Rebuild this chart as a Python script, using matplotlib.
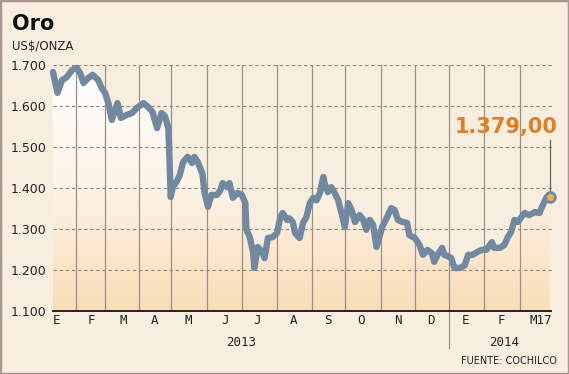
import matplotlib
matplotlib.use('Agg')
import matplotlib.pyplot as plt
import matplotlib.transforms as mtransforms
from matplotlib.patches import Rectangle
import numpy as np

# dias desde el inicio de la serie (aprox. 2 ene 2013 -> 17 mar 2014)
dias = [0, 4, 8, 12, 17, 21, 24, 27, 31, 35, 40, 43, 46, 49, 52, 57, 60, 65, 70, 74,
        80, 84, 88, 92, 96, 99, 102, 103, 104, 106, 110, 112, 115, 119, 123, 125, 128, 132,
        134, 137, 140, 145, 148, 150, 154, 156, 159, 163, 167, 170, 171, 174, 177, 178,
        181, 185, 187, 190, 194, 198, 201, 203, 207, 209, 212, 214, 218, 221, 224, 227,
        230, 233, 236, 239, 240, 243, 246, 249, 252, 255, 258, 261, 264, 267, 271, 274,
        277, 280, 283, 286, 291, 295, 299, 302, 305, 309, 313, 315, 320, 324, 327, 331,
        335, 337, 340, 344, 346, 349, 352, 355, 360, 364, 367, 371, 375, 379, 383, 388,
        390, 395, 399, 402, 405, 408, 411, 414, 417, 421, 426, 430, 433, 436, 439]
precio = [1683, 1632, 1663, 1670, 1688, 1693, 1680, 1656, 1668, 1676, 1663, 1644, 1632,
          1607, 1566, 1607, 1571, 1578, 1583, 1595, 1607, 1598, 1585, 1546, 1583, 1575,
          1546, 1468, 1378, 1402, 1419, 1431, 1463, 1476, 1461, 1476, 1463, 1436, 1388,
          1354, 1383, 1383, 1395, 1412, 1402, 1412, 1376, 1388, 1383, 1363, 1298, 1280,
          1241, 1205, 1256, 1244, 1229, 1278, 1280, 1290, 1329, 1339, 1322, 1326, 1317,
          1290, 1278, 1315, 1329, 1363, 1376, 1370, 1388, 1427, 1412, 1390, 1402, 1388,
          1371, 1339, 1305, 1363, 1346, 1317, 1334, 1324, 1298, 1322, 1310, 1256, 1305,
          1327, 1351, 1346, 1322, 1317, 1315, 1285, 1278, 1261, 1237, 1249, 1241, 1220,
          1237, 1254, 1237, 1234, 1229, 1205, 1205, 1212, 1237, 1237, 1244, 1249, 1249,
          1268, 1254, 1254, 1261, 1280, 1293, 1322, 1317, 1329, 1339, 1334, 1341, 1339,
          1358, 1376, 1379]

meses = ['E', 'F', 'M', 'A', 'M', 'J', 'J', 'A', 'S', 'O', 'N', 'D', 'E', 'F', 'M17']
pos_meses = [3.5, 33.6, 61.9, 89.3, 119.4, 152.1, 180.4, 212.2, 243.1, 272.3, 305,
             334.2, 364.3, 396.1, 431.5]
divisiones = [20.3, 46, 76, 104.3, 136.2, 167.1, 198.1, 229, 258.2, 290, 320, 350.1,
              381, 412.9]
y_ticks = [1100, 1200, 1300, 1400, 1500, 1600, 1700]

fondo = '#f7eedf'
linea = '#7189a0'
naranja = '#e47d22'

fig = plt.figure(figsize=(5.69, 3.74), dpi=100, facecolor=fondo)
ax = fig.add_axes([53 / 569, 63 / 374, 500 / 569, 246 / 374])
ax.set_facecolor(fondo)
ax.set_xlim(0, 442)
ax.set_ylim(1100, 1700)

# degradado bajo la curva
grad = np.linspace(0, 1, 256).reshape(-1, 1)
from matplotlib.colors import LinearSegmentedColormap
cmap = LinearSegmentedColormap.from_list('g', ['#f9ddb8', '#fdf3e6', '#ffffff'])
im = ax.imshow(grad, cmap=cmap, aspect='auto', origin='lower',
               extent=[0, dias[-1], 1100, 1700], zorder=1)
poly = ax.fill_between(dias, precio, 1100, color='none', zorder=1)
im.set_clip_path(poly.get_paths()[0], transform=ax.transData)

for y in y_ticks[1:]:
    ax.plot([0, 442], [y, y], color='#8a8580', lw=0.8, ls=(0, (3, 2.5)), zorder=2)
for d in divisiones:
    ax.plot([d, d], [1100, 1700], color='#9a8f88', lw=0.9, zorder=2)

ax.plot(dias, precio, color=linea, lw=4.6, solid_joinstyle='round',
        solid_capstyle='round', zorder=3, clip_on=False)

# valor final
ax.plot([dias[-1], dias[-1]], [precio[-1], 1517], color='#6a6460', lw=0.9, zorder=2)
ax.plot(dias[-1], precio[-1], 'o', ms=7, mfc='#f3b23f', mec=linea, mew=2, zorder=4,
        clip_on=False)
ax.text(400.5, 1549, '1.379,00', color=naranja, fontsize=15, fontweight='bold',
        ha='center', va='center')

# ejes
for s in ax.spines.values():
    s.set_visible(False)
ax.plot([0, dias[-1] + 1], [1100, 1100], color='#222222', lw=1.4, zorder=5, clip_on=False)
ax.plot([350.1, 350.1], [1100, 1010], color='#9a8f88', lw=0.9, clip_on=False)

ax.set_yticks(y_ticks)
ax.set_yticklabels([f'{v // 1000}.{v % 1000:03d}' for v in y_ticks], fontsize=9,
                   color='#222222')
ax.tick_params(axis='y', length=0, pad=5)
ax.set_xticks(pos_meses)
ax.set_xticklabels(meses, fontsize=9, family='DejaVu Sans Mono', color='#222222')
ax.tick_params(axis='x', length=0, pad=2)

trans = mtransforms.blended_transform_factory(ax.transData, ax.transAxes)
ax.text(166, -0.128, '2013', transform=trans, ha='center', va='center', fontsize=9,
        family='DejaVu Sans Mono', color='#222222')
ax.text(398.7, -0.128, '2014', transform=trans, ha='center', va='center', fontsize=9,
        family='DejaVu Sans Mono', color='#222222')

fig.text(0.021, 0.92, 'Oro', fontsize=15, fontweight='bold', color='#111111')
fig.text(0.021, 0.866, 'US$/ONZA', fontsize=8.5, color='#222222')
fig.text(0.979, 0.0356, 'FUENTE: COCHILCO', fontsize=7, color='#222222',
         ha='right', va='center')

fig.patches.append(Rectangle((0, 0), 1, 1, transform=fig.transFigure, fill=False,
                             edgecolor='#a8968f', lw=2.5))

fig.savefig('out.png', dpi=100, facecolor=fondo)
